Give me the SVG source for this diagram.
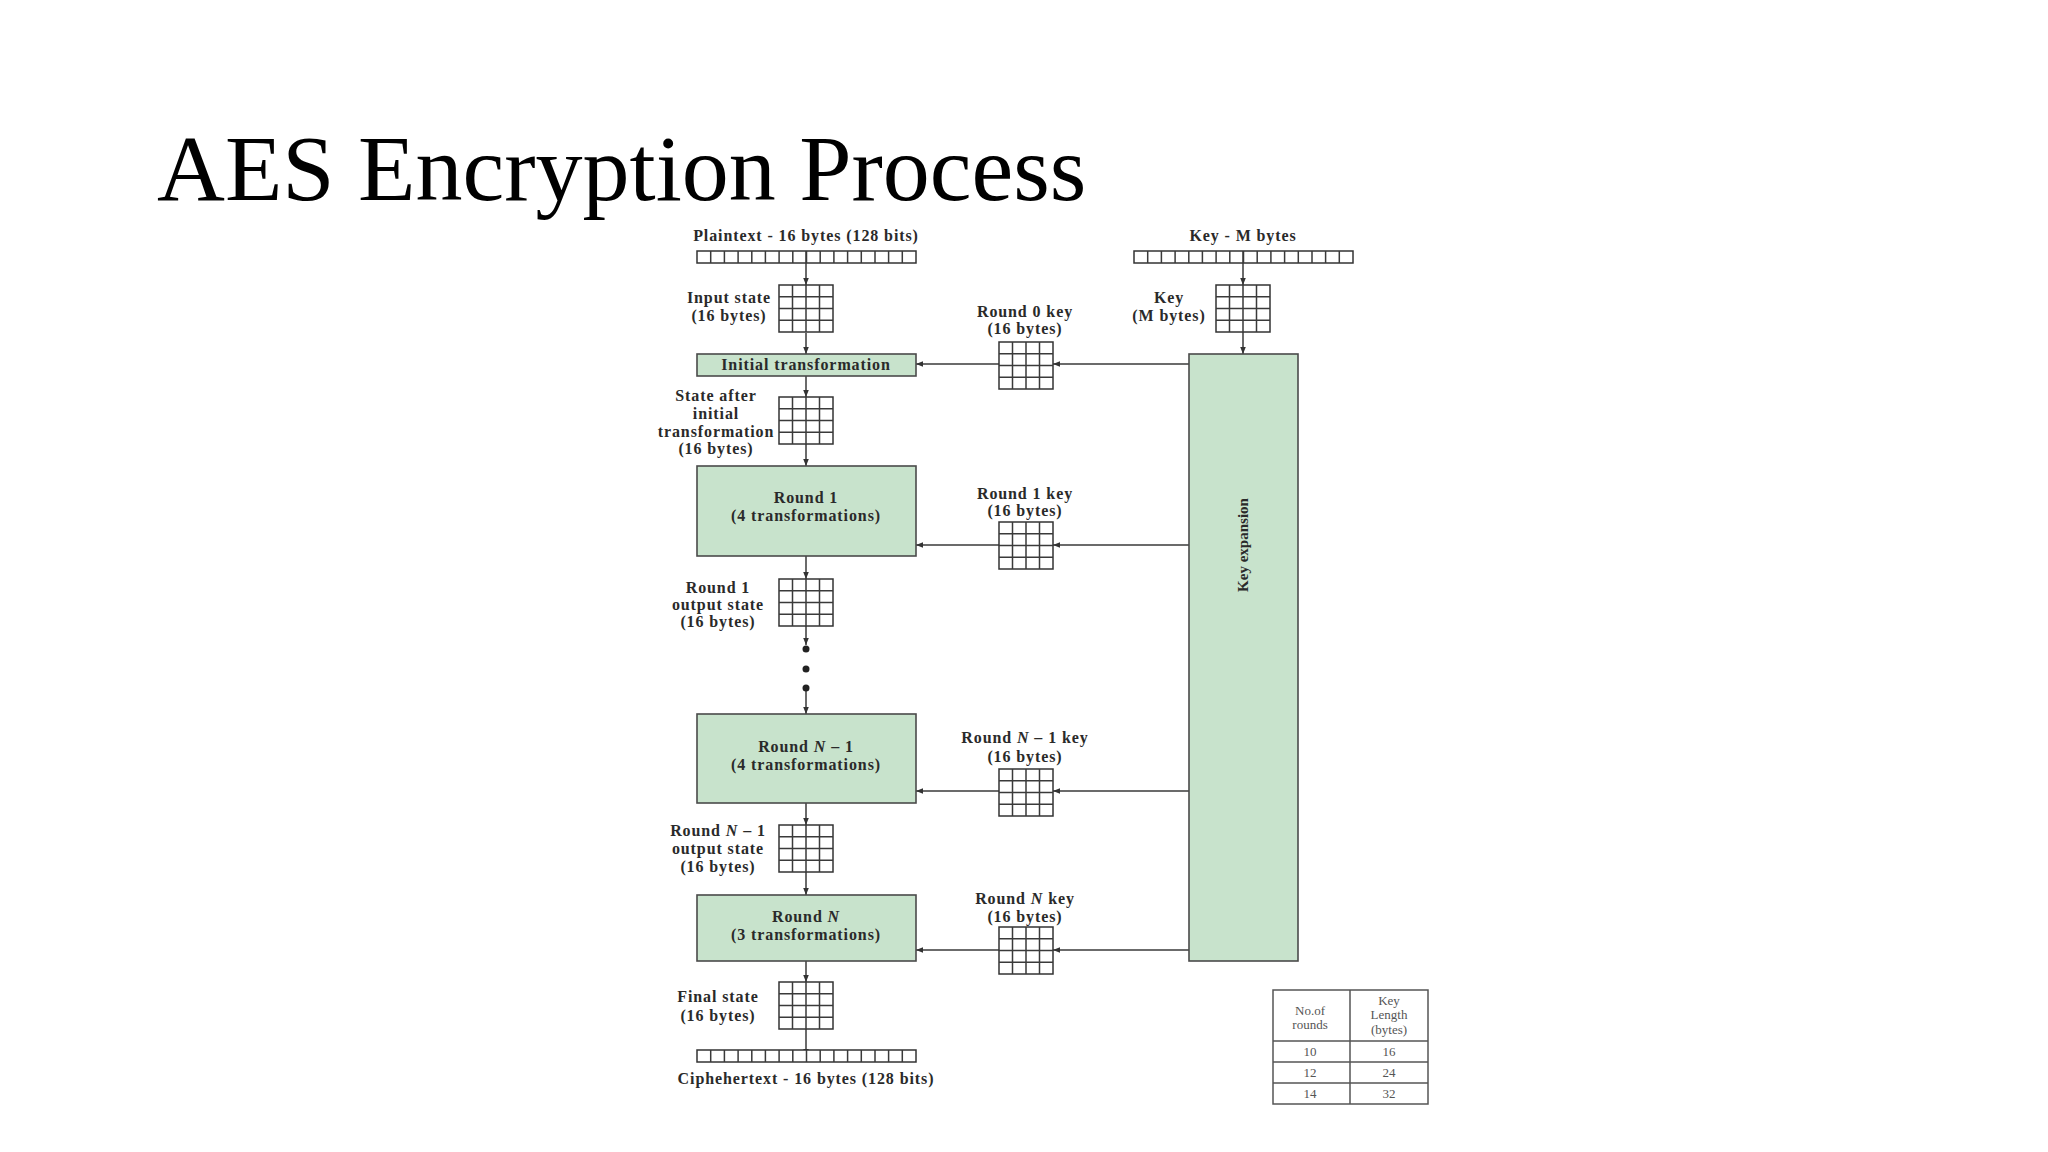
<svg xmlns="http://www.w3.org/2000/svg" xmlns:xlink="http://www.w3.org/1999/xlink" width="2048" height="1152" viewBox="0 0 2048 1152">
<style>
.t{font-family:"Liberation Serif","Times New Roman",serif;font-weight:bold;font-size:16px;letter-spacing:0.9px;fill:#2a2a2a;text-anchor:middle}
.kx{font-family:"Liberation Serif","Times New Roman",serif;font-weight:bold;font-size:15px;fill:#2a2a2a;text-anchor:middle}
.title{font-family:"Liberation Serif","Times New Roman",serif;font-size:94px;fill:#000}
.box{fill:#c8e3cc;stroke:#4a4a4a;stroke-width:1.6}
.ln{stroke:#3a3a3a;stroke-width:1.5;fill:none}
.g{fill:#fff;stroke:#333;stroke-width:1.5}
.tb{font-family:"Liberation Serif","Times New Roman",serif;font-size:13px;fill:#555;text-anchor:middle}
.tl{stroke:#555;stroke-width:1.5;fill:none}
</style>
<defs>
<marker id="ah" viewBox="0 0 10 10" refX="10" refY="5" markerWidth="7" markerHeight="7" markerUnits="userSpaceOnUse" orient="auto">
<path d="M0,1 L10,5 L0,9 z" fill="#333"/>
</marker>
<g id="grid">
<rect class="g" x="0" y="0" width="54" height="47"/>
<path class="ln" d="M13.5,0V47M27,0V47M40.5,0V47M0,11.75H54M0,23.5H54M0,35.25H54"/>
</g>
<g id="bar">
<rect class="g" x="0" y="0" width="219" height="12"/>
<path class="ln" d="M13.7,0V12M27.4,0V12M41.1,0V12M54.8,0V12M68.4,0V12M82.1,0V12M95.8,0V12M109.5,0V12M123.2,0V12M136.9,0V12M150.6,0V12M164.3,0V12M178,0V12M191.6,0V12M205.3,0V12"/>
</g>
</defs>
<rect width="2048" height="1152" fill="#fff"/>
<text class="title" x="157" y="200">AES Encryption Process</text>

<g id="connectors">
<path class="ln" marker-end="url(#ah)" d="M806,257V285"/>
<path class="ln" marker-end="url(#ah)" d="M806,333V354"/>
<path class="ln" marker-end="url(#ah)" d="M806,376V397"/>
<path class="ln" marker-end="url(#ah)" d="M806,444V466"/>
<path class="ln" marker-end="url(#ah)" d="M806,556V579"/>
<path class="ln" marker-end="url(#ah)" d="M806,626V645"/>
<path class="ln" marker-end="url(#ah)" d="M806,688V714"/>
<path class="ln" marker-end="url(#ah)" d="M806,803V825"/>
<path class="ln" marker-end="url(#ah)" d="M806,872V895"/>
<path class="ln" marker-end="url(#ah)" d="M806,961V982"/>
<path class="ln" marker-end="url(#ah)" d="M806,1029V1056"/>
<path class="ln" marker-end="url(#ah)" d="M1243,257V285"/>
<path class="ln" marker-end="url(#ah)" d="M1243,332V354"/>
<path class="ln" marker-end="url(#ah)" d="M1189,364H1053"/>
<path class="ln" marker-end="url(#ah)" d="M999,364H916"/>
<path class="ln" marker-end="url(#ah)" d="M1189,545H1053"/>
<path class="ln" marker-end="url(#ah)" d="M999,545H916"/>
<path class="ln" marker-end="url(#ah)" d="M1189,791H1053"/>
<path class="ln" marker-end="url(#ah)" d="M999,791H916"/>
<path class="ln" marker-end="url(#ah)" d="M1189,950H1053"/>
<path class="ln" marker-end="url(#ah)" d="M999,950H916"/>
<circle cx="806" cy="649" r="3.5" fill="#222"/>
<circle cx="806" cy="669" r="3.5" fill="#222"/>
<circle cx="806" cy="688" r="3.5" fill="#222"/>
</g>

<g id="plaintext">
<text class="t" x="806" y="241">Plaintext - 16 bytes (128 bits)</text>
<use xlink:href="#bar" x="697" y="251"/>
<path class="ln" d="M806,251V263"/>
</g>
<g id="input-state">
<use xlink:href="#grid" x="779" y="285"/>
<text class="t" x="729" y="303">Input state</text>
<text class="t" x="729" y="321">(16 bytes)</text>
</g>
<g id="initial-transformation">
<rect class="box" x="697" y="354" width="219" height="22"/>
<text class="t" x="806" y="370">Initial transformation</text>
</g>
<g id="state-after">
<use xlink:href="#grid" x="779" y="397"/>
<text class="t" x="716" y="401">State after</text>
<text class="t" x="716" y="419">initial</text>
<text class="t" x="716" y="437">transformation</text>
<text class="t" x="716" y="454">(16 bytes)</text>
</g>
<g id="round1">
<rect class="box" x="697" y="466" width="219" height="90"/>
<text class="t" x="806" y="503">Round 1</text>
<text class="t" x="806" y="521">(4 transformations)</text>
</g>
<g id="round1-output">
<use xlink:href="#grid" x="779" y="579"/>
<text class="t" x="718" y="593">Round 1</text>
<text class="t" x="718" y="610">output state</text>
<text class="t" x="718" y="627">(16 bytes)</text>
</g>
<g id="roundN-1">
<rect class="box" x="697" y="714" width="219" height="89"/>
<text class="t" x="806" y="752">Round <tspan font-style="italic">N</tspan> – 1</text>
<text class="t" x="806" y="770">(4 transformations)</text>
</g>
<g id="roundN-1-output">
<use xlink:href="#grid" x="779" y="825"/>
<text class="t" x="718" y="836">Round <tspan font-style="italic">N</tspan> – 1</text>
<text class="t" x="718" y="854">output state</text>
<text class="t" x="718" y="872">(16 bytes)</text>
</g>
<g id="roundN">
<rect class="box" x="697" y="895" width="219" height="66"/>
<text class="t" x="806" y="922">Round <tspan font-style="italic">N</tspan></text>
<text class="t" x="806" y="940">(3 transformations)</text>
</g>
<g id="final-state">
<use xlink:href="#grid" x="779" y="982"/>
<text class="t" x="718" y="1002">Final state</text>
<text class="t" x="718" y="1021">(16 bytes)</text>
</g>
<g id="ciphertext">
<use xlink:href="#bar" x="697" y="1050"/>
<text class="t" x="806" y="1084">Ciphehertext - 16 bytes (128 bits)</text>
</g>

<g id="key-bytes">
<text class="t" x="1243" y="241">Key - M bytes</text>
<use xlink:href="#bar" x="1134" y="251"/>
<path class="ln" d="M1243,251V263"/>
</g>
<g id="key-grid">
<use xlink:href="#grid" x="1216" y="285"/>
<text class="t" x="1169" y="303">Key</text>
<text class="t" x="1169" y="321">(M bytes)</text>
</g>
<g id="key-expansion">
<rect class="box" x="1189" y="354" width="109" height="607"/>
<text class="kx" transform="translate(1248,545) rotate(-90)">Key expansion</text>
</g>
<g id="round0-key">
<text class="t" x="1025" y="317">Round 0 key</text>
<text class="t" x="1025" y="334">(16 bytes)</text>
<use xlink:href="#grid" x="999" y="342"/>
</g>
<g id="round1-key">
<text class="t" x="1025" y="499">Round 1 key</text>
<text class="t" x="1025" y="516">(16 bytes)</text>
<use xlink:href="#grid" x="999" y="522"/>
</g>
<g id="roundN-1-key">
<text class="t" x="1025" y="743">Round <tspan font-style="italic">N</tspan> – 1 key</text>
<text class="t" x="1025" y="762">(16 bytes)</text>
<use xlink:href="#grid" x="999" y="769"/>
</g>
<g id="roundN-key">
<text class="t" x="1025" y="904">Round <tspan font-style="italic">N</tspan> key</text>
<text class="t" x="1025" y="922">(16 bytes)</text>
<use xlink:href="#grid" x="999" y="927"/>
</g>

<g id="table">
<rect class="tl" x="1273" y="990" width="155" height="114"/>
<path class="tl" d="M1350,990V1104M1273,1041H1428M1273,1062H1428M1273,1083H1428"/>
<text class="tb" x="1310" y="1015">No.of</text>
<text class="tb" x="1310" y="1029">rounds</text>
<text class="tb" x="1389" y="1005">Key</text>
<text class="tb" x="1389" y="1019">Length</text>
<text class="tb" x="1389" y="1034">(bytes)</text>
<text class="tb" x="1310" y="1056">10</text>
<text class="tb" x="1389" y="1056">16</text>
<text class="tb" x="1310" y="1077">12</text>
<text class="tb" x="1389" y="1077">24</text>
<text class="tb" x="1310" y="1098">14</text>
<text class="tb" x="1389" y="1098">32</text>
</g>
</svg>
